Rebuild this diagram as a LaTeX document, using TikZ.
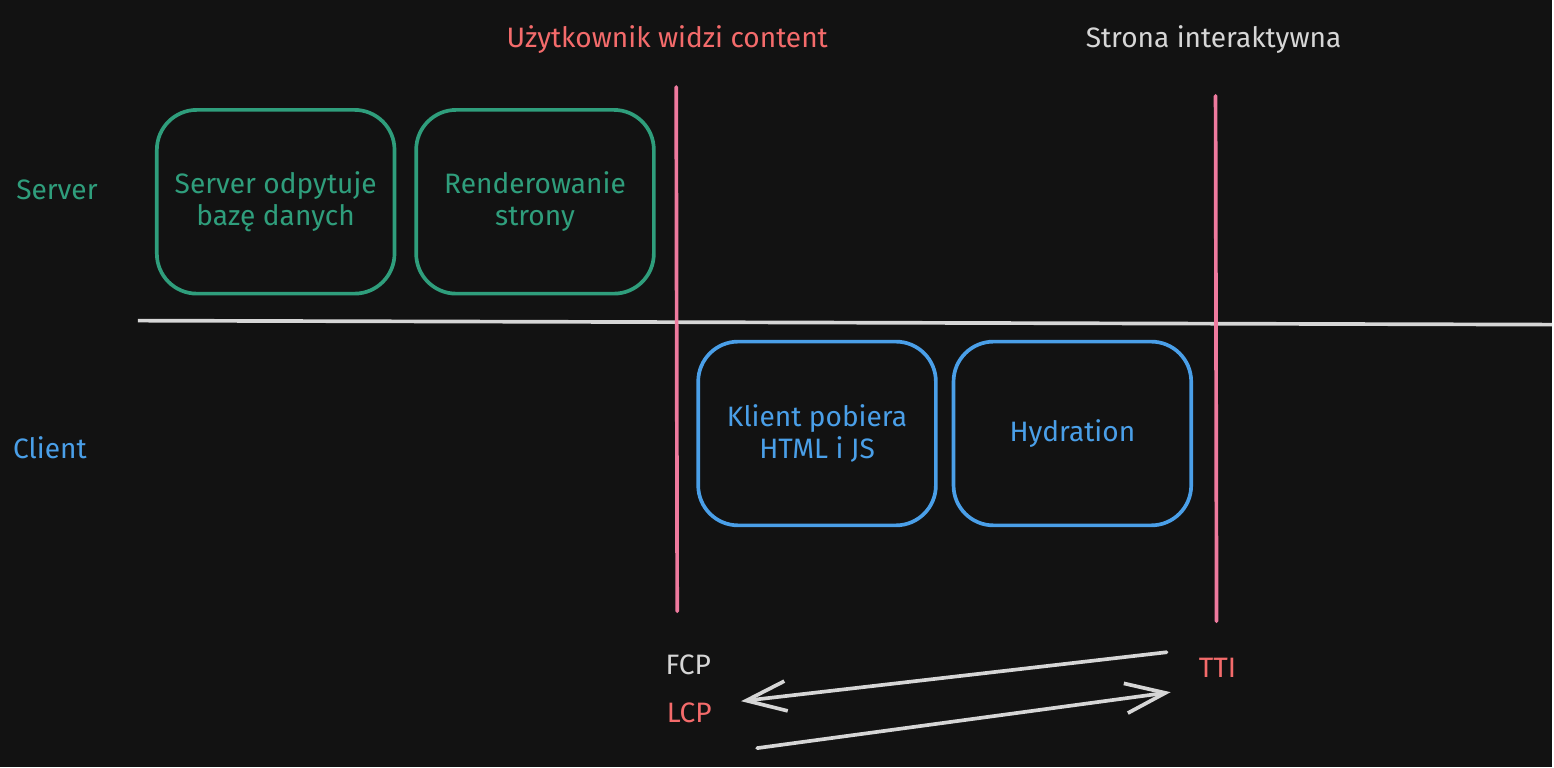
\documentclass[tikz,border=0pt]{standalone}
\usepackage{fontspec}
\setmainfont{Fira Sans}
\usetikzlibrary{arrows.meta,positioning}
\definecolor{bgdark}{HTML}{121212}
\definecolor{srvgreen}{HTML}{2F9E7C}
\definecolor{cligblue}{HTML}{4A9FE8}
\definecolor{mark-red}{HTML}{F46B6B}
\definecolor{mark-pink}{HTML}{EE7A9E}
\definecolor{paleline}{HTML}{D6D6D6}
\begin{document}
\begin{tikzpicture}[x=0.02cm,y=-0.02cm]
\tikzset{every node/.style={font=\fontsize{16}{18}\selectfont},
stage/.style={draw,line width=2.1pt,rounded corners=0.8cm,
minimum width=4.76cm, minimum height=3.68cm, align=center},
server-stage/.style={stage,draw=srvgreen,text=srvgreen},
client-stage/.style={stage,draw=cligblue,text=cligblue},
timing-arrow/.style={->,>={Straight Barb[length=0.8cm,width=0.6cm]}}}
\fill[bgdark] (0,0) rectangle (1554,768);

\node[text=srvgreen] (server-lane) at (57,190) {Server};
\node[text=cligblue] (client-lane) at (50,448) {Client};

\node[server-stage] (query-db) at (276,202) {Server odpytuje\\bazę danych};
\node[server-stage,right=0.36cm of query-db] (render-page) {Renderowanie\\strony};
\node[client-stage] (fetch-html) at (818,434) {Klient pobiera\\HTML i JS};
\node[client-stage,right=0.28cm of fetch-html] (hydration) {Hydration};

\node[text=mark-red] (content-seen) at (668,40) {Użytkownik widzi content};
\node[text=paleline] (interactive) at (1215,40) {Strona interaktywna};
\node[text=paleline] (fcp) at (689,666) {FCP};
\node[text=mark-red] (lcp) at (690,714) {LCP};
\node[text=mark-red] (tti) at (1219,669) {TTI};

\coordinate (lane-start) at (138,321);
\coordinate (lane-end) at (1554,325);
\coordinate (fcp-top) at (677,87);
\coordinate (fcp-bottom) at (678,612);
\coordinate (tti-top) at (1217,96);
\coordinate (tti-bottom) at (1218,622);
\coordinate (back-start) at (1168,653);
\coordinate (back-end) at (742,702);
\coordinate (fwd-start) at (758,749);
\coordinate (fwd-end) at (1172,693);

\path[draw,paleline,line width=2.1pt] (lane-start) -- (lane-end);
\path[mark-pink,line width=2.1pt,line cap=round]
(fcp-top) edge (fcp-bottom)
(tti-top) edge (tti-bottom);
\path[paleline,line width=2.1pt,line cap=round]
(back-start) edge[timing-arrow] (back-end)
(fwd-start) edge[timing-arrow] (fwd-end);
\end{tikzpicture}
\end{document}
